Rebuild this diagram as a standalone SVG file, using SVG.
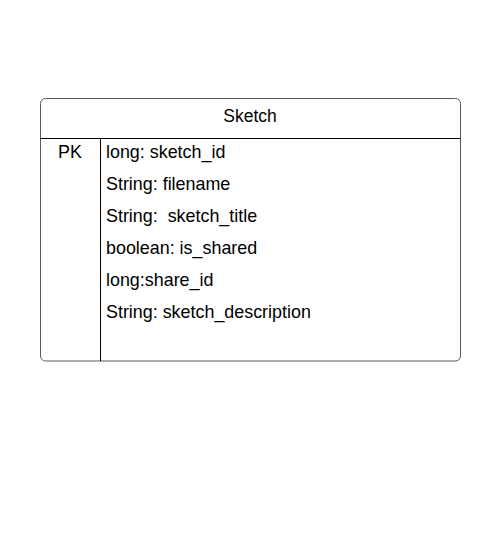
<svg xmlns="http://www.w3.org/2000/svg" width="499" height="544" viewBox="0 0 499 544">
<style>
.t{font-family:"Liberation Sans",Arial,sans-serif;fill:#000}
.row{font-size:17.9px}
.hd{font-size:17.5px}
.ln{stroke:#000;stroke-width:1;fill:none}
</style>
<rect width="499" height="544" fill="#fff"/>
<g id="sketch">
<rect x="40.5" y="98.5" width="420" height="262.5" rx="5" ry="5" fill="#fff" stroke="#5a5a5a" stroke-width="1"/>
<line class="ln" x1="40.5" y1="138.5" x2="460.5" y2="138.5"/>
<line class="ln" x1="100.5" y1="138.5" x2="100.5" y2="361"/>
<text class="t hd" x="250" y="121.5" text-anchor="middle">Sketch</text>
<text class="t row" x="70" y="158" text-anchor="middle">PK</text>
<text class="t row" x="106" y="158">long: sketch_id</text>
<text class="t row" x="106" y="190">String: filename</text>
<text class="t row" x="106" y="222" xml:space="preserve">String:  sketch_title</text>
<text class="t row" x="106" y="254">boolean: is_shared</text>
<text class="t row" x="106" y="286">long:share_id</text>
<text class="t row" x="106" y="318">String: sketch_description</text>
</g>
<g id="connectors"/>
</svg>
